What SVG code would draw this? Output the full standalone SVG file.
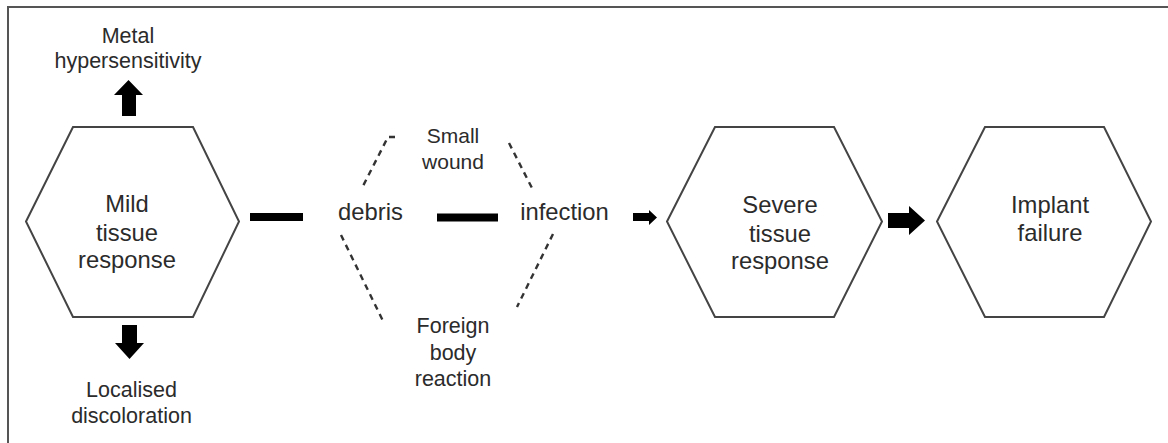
<svg xmlns="http://www.w3.org/2000/svg" width="1168" height="443" viewBox="0 0 1168 443">
<style>
.hex{fill:#fff;stroke:#444;stroke-width:2;stroke-linejoin:miter}
.t{font-family:"Liberation Sans",Arial,sans-serif;fill:#2b2b2b;text-anchor:middle}
.in{font-size:23.8px}
.out{font-size:21.5px}
.bar{stroke:#000;stroke-width:8}
.dash{fill:none;stroke:#333;stroke-width:2.4;stroke-dasharray:6 5}
.arr{fill:#000}
</style>
<rect width="1168" height="443" fill="#fff"/>
<path d="M8,443 V7 H1168" fill="none" stroke="#555" stroke-width="2"/>
<g id="mild">
<polygon class="hex" points="26,221.5 73,127 193,127 239,221.5 193,317 73,317"/>
<text class="t in" x="127" y="212">Mild</text>
<text class="t in" x="127" y="241">tissue</text>
<text class="t in" x="127" y="268">response</text>
</g>
<g id="metal">
<text class="t out" x="128" y="43">Metal</text>
<text class="t out" x="128" y="68">hypersensitivity</text>
</g>
<g id="localised">
<text class="t out" x="131.5" y="397">Localised</text>
<text class="t out" x="131.5" y="423">discoloration</text>
</g>
<g id="debris"><text class="t in" x="370.5" y="220">debris</text></g>
<g id="infection"><text class="t in" x="564.5" y="220">infection</text></g>
<g id="smallwound">
<text class="t" style="font-size:21px" x="453" y="143">Small</text>
<text class="t" style="font-size:21px" x="453" y="169">wound</text>
</g>
<g id="foreign">
<text class="t out" x="453" y="333">Foreign</text>
<text class="t out" x="453" y="360">body</text>
<text class="t out" x="453" y="386">reaction</text>
</g>
<g id="severe">
<polygon class="hex" points="667,221.5 715,127 834,127 882,221.5 834,317 715,317"/>
<text class="t in" x="780" y="213">Severe</text>
<text class="t in" x="780" y="242">tissue</text>
<text class="t in" x="780" y="269">response</text>
</g>
<g id="implant">
<polygon class="hex" points="937,221.5 985,127 1104,127 1151,221.5 1104,317 985,317"/>
<text class="t in" x="1050" y="213">Implant</text>
<text class="t in" x="1050" y="241">failure</text>
</g>
<g id="connectors">
<path class="arr" d="M122,116 V95 H114 L128.5,80 L143,95 H136 V116 Z"/>
<path class="arr" d="M122,325 H137 V343 H144 L129.5,359 L115,343 H122 Z"/>
<line class="bar" x1="250" y1="217" x2="303" y2="217"/>
<line class="bar" x1="437" y1="217.5" x2="498" y2="217.5"/>
<path class="dash" d="M395,137 H388 L363,186"/>
<path class="dash" d="M509,143 L533,190"/>
<path class="dash" d="M341,235 L384,323"/>
<path class="dash" d="M553,234 L517,307"/>
<path class="arr" d="M633,213 H649 V210 L657,217.5 L649,225 V221 H633 Z"/>
<path class="arr" d="M888,213 H909 V206 L925,220.5 L909,235 V228 H888 Z"/>
</g>
</svg>
